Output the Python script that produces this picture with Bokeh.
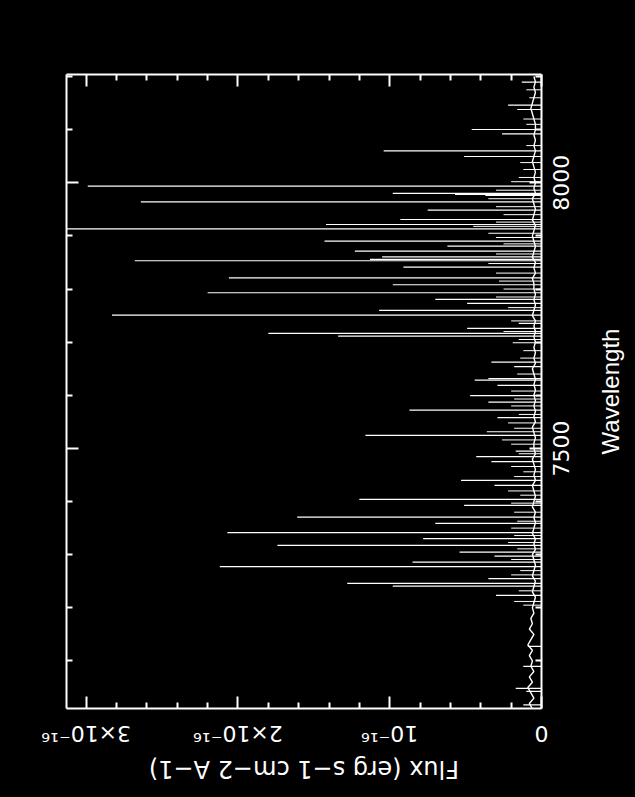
from bokeh.embed import file_html
from bokeh.models import FixedTicker, InlineStyleSheet, LinearAxis, Range1d
from bokeh.plotting import figure
from bokeh.resources import INLINE

try:
    from bokeh.models import GlobalInlineStyleSheet
except ImportError:
    GlobalInlineStyleSheet = None

# Night-sky spectrum, flux in units of 1e-16 erg s-1 cm-2 A-1.
# The plot is laid out in landscape on a square canvas, which is then
# turned a quarter turn counter-clockwise on the page.

# emission lines: wavelength (A) and peak flux
line_wave = [
    8189.5, 8146.2, 8137.9, 8100.3, 8092.0, 8060.2, 8049.5,
    7993.6, 7979.9, 7978.0, 7976.1, 7964.2, 7948.4, 7930.9, 7921.5, 7913.4,
    7890.1, 7880.7, 7871.3, 7860.7, 7855.7, 7853.2, 7841.2, 7821.2, 7808.1,
    7793.0, 7780.4, 7772.9, 7759.7, 7750.9, 7735.2, 7725.8, 7716.4, 7711.3,
    7698.9, 7662.4, 7653.8, 7631.2, 7628.5, 7618.6, 7599.2, 7587.1, 7572.1,
    7557.8, 7531.4, 7524.5, 7494.9, 7484.4, 7475.0, 7439.8, 7430.4, 7404.1,
    7392.8, 7370.7, 7358.9, 7341.4, 7330.1, 7317.5, 7304.9, 7297.3, 7286.1,
    7277.4, 7254.8, 7246.0, 7240.9, 7223.4, 7127.4, 7089.8, 7048.4, 7042.7,
    7017.3,
]
line_peak = [
    0.13, 0.22, 0.16, 0.46, 0.26, 1.04, 0.51,
    2.99, 0.98, 0.57, 0.37, 2.64, 0.75, 0.93, 1.42, 3.13,
    1.43, 0.62, 1.23, 1.05, 1.13, 2.68, 0.91, 2.06, 0.98,
    2.20, 0.70, 0.49, 1.07, 2.83, 0.15, 0.49, 1.80, 1.34,
    0.19, 0.33, 0.18, 0.35, 0.44, 0.29, 0.47, 0.35, 0.87,
    0.29, 0.36, 1.16, 0.17, 0.43, 0.33, 0.53, 0.31, 1.20,
    0.51, 1.61, 0.70, 2.07, 0.78, 1.74, 0.54, 0.31, 0.85,
    2.12, 0.35, 1.28, 0.98, 0.30, 0.09, 0.12, 0.17, 0.10,
    0.12,
]

# weak lines sitting on the continuum
weak_wave = [
    7205, 7212, 7232, 7262, 7270, 7291, 7311, 7323, 7336, 7350, 7363, 7380,
    7397, 7412, 7420, 7447, 7456, 7466, 7490, 7508, 7516, 7538, 7548, 7564,
    7580, 7593, 7608, 7640, 7670, 7684, 7705, 7720, 7740, 7765, 7785, 7800,
    7815, 7830, 7848, 7866, 7885, 7897, 7905, 7918, 7926, 7940, 7955, 7970,
    7986, 8002, 8010, 8025, 8038, 8070, 8110, 8120, 8160, 8175,
]
weak_peak = [
    0.12, 0.18, 0.15, 0.20, 0.14, 0.20, 0.16, 0.22, 0.18, 0.20, 0.16, 0.18,
    0.20, 0.14, 0.22, 0.18, 0.12, 0.20, 0.15, 0.20, 0.26, 0.18, 0.22, 0.15,
    0.20, 0.18, 0.20, 0.16, 0.14, 0.12, 0.15, 0.25, 0.20, 0.22, 0.30, 0.25,
    0.28, 0.30, 0.35, 0.30, 0.25, 0.30, 0.35, 0.45, 0.30, 0.25, 0.30, 0.35,
    0.30, 0.20, 0.15, 0.12, 0.14, 0.10, 0.10, 0.12, 0.08, 0.10,
]

# continuum samples every 10 A
cont_wave = list(range(7010, 8210, 10))
cont_flux = [
    0.06, 0.08, 0.05, 0.07, 0.09, 0.06, 0.08, 0.05, 0.07, 0.06,
    0.08, 0.06, 0.09, 0.07, 0.05, 0.08, 0.06, 0.07, 0.05, 0.06,
    0.05, 0.04, 0.06, 0.05, 0.04, 0.06, 0.05, 0.04, 0.05, 0.06,
    0.04, 0.05, 0.04, 0.06, 0.05, 0.04, 0.05, 0.04, 0.06, 0.05,
    0.04, 0.05, 0.06, 0.04, 0.05, 0.04, 0.05, 0.06, 0.04, 0.05,
    0.05, 0.04, 0.05, 0.06, 0.04, 0.05, 0.04, 0.05, 0.04, 0.05,
    0.04, 0.05, 0.04, 0.05, 0.06, 0.04, 0.05, 0.04, 0.05, 0.04,
    0.05, 0.04, 0.05, 0.04, 0.06, 0.05, 0.04, 0.05, 0.04, 0.05,
    0.05, 0.06, 0.04, 0.05, 0.04, 0.06, 0.05, 0.04, 0.05, 0.06,
    0.05, 0.04, 0.06, 0.05, 0.04, 0.05, 0.06, 0.04, 0.05, 0.04,
    0.05, 0.04, 0.05, 0.06, 0.05, 0.04, 0.05, 0.04, 0.05, 0.04,
    0.04, 0.05, 0.06, 0.07, 0.06, 0.05, 0.04, 0.05, 0.04, 0.05,
]

wave_range = (7010.5, 8203.8)
flux_range = (0.0, 3.13)

flux_major = [0, 1, 2, 3]
flux_minor = [0.2, 0.4, 0.6, 0.8, 1.2, 1.4, 1.6, 1.8, 2.2, 2.4, 2.6, 2.8, 3.2]
flux_labels = {0: "0", 1: "10⁻¹⁶", 2: "2×10⁻¹⁶", 3: "3×10⁻¹⁶"}
flux_title = "Flux (erg s−1 cm−2 A−1)"

wave_major = [7500, 8000]
wave_minor = [7100, 7200, 7300, 7400, 7600, 7700, 7800, 7900, 8100, 8200]
wave_title = "Wavelength"

PAGE_W, PAGE_H = 635, 797
SIDE = PAGE_H  # square canvas, so turning it keeps its footprint

p = figure(
    width=SIDE, height=SIDE,
    output_backend="svg", toolbar_location=None,
    x_range=Range1d(*wave_range), y_range=Range1d(*flux_range),
    x_axis_location=None, y_axis_location=None,
    min_border_left=88, min_border_right=75,
    min_border_top=66, min_border_bottom=SIDE - PAGE_W + 94,
    background_fill_color="black", border_fill_color="black",
    outline_line_color=None,
)
p.grid.visible = False

# turn the drawing surface a quarter turn counter-clockwise
turn_css = (
    ".bk-Canvas { transform-origin: 0 0; "
    f"transform: translate(0px, {SIDE}px) rotate(-90deg); }}"
)
p.stylesheets = [InlineStyleSheet(css=turn_css)]
if GlobalInlineStyleSheet is not None:
    p.stylesheets.append(GlobalInlineStyleSheet(
        css="html, body { margin: 0; overflow: hidden; background: black; }"))


def boxed_axis(ticker, labelled):
    ax = LinearAxis(ticker=ticker)
    ax.axis_line_color = "white"
    ax.axis_line_width = 2
    ax.major_tick_line_color = "white"
    ax.major_tick_line_width = 2
    ax.major_tick_in = 12
    ax.major_tick_out = 0
    ax.minor_tick_line_color = "white"
    ax.minor_tick_line_width = 2
    ax.minor_tick_in = 6
    ax.minor_tick_out = 0
    ax.major_label_text_color = "white"
    ax.major_label_text_font = "DejaVu Sans"
    ax.major_label_text_font_size = "22px"
    ax.axis_label_text_color = "white"
    ax.axis_label_text_font_style = "normal"
    ax.axis_label_text_font_size = "24px"
    if not labelled:
        ax.major_label_text_alpha = 0
        ax.major_label_text_font_size = "8px"
    return ax


flux_ticker = FixedTicker(ticks=flux_major, minor_ticks=flux_minor)
wave_ticker = FixedTicker(ticks=wave_major, minor_ticks=wave_minor)

wave_axis = boxed_axis(wave_ticker, True)
wave_axis.major_label_standoff = 11
wave_axis.axis_label = wave_title
wave_axis.axis_label_text_font = "Liberation Sans"
wave_axis.axis_label_standoff = 25
p.add_layout(wave_axis, "below")
p.add_layout(boxed_axis(wave_ticker, False), "above")

flux_axis = boxed_axis(flux_ticker, True)
flux_axis.major_label_overrides = flux_labels
flux_axis.major_label_orientation = "vertical"
flux_axis.major_label_standoff = 12
flux_axis.axis_label = flux_title
flux_axis.axis_label_text_font = "DejaVu Sans"
flux_axis.axis_label_standoff = 6
p.add_layout(flux_axis, "left")
p.add_layout(boxed_axis(flux_ticker, False), "right")

# spectrum: continuum plus emission lines
p.line(x=cont_wave, y=cont_flux, line_color="white", line_width=1.4)
p.segment(x0=weak_wave, y0=0, x1=weak_wave, y1=weak_peak,
          line_color="white", line_width=1)
p.segment(x0=line_wave, y0=0, x1=line_wave, y1=line_peak,
          line_color="white", line_width=1.2)

open("out.html", "w").write(file_html(p, INLINE))
